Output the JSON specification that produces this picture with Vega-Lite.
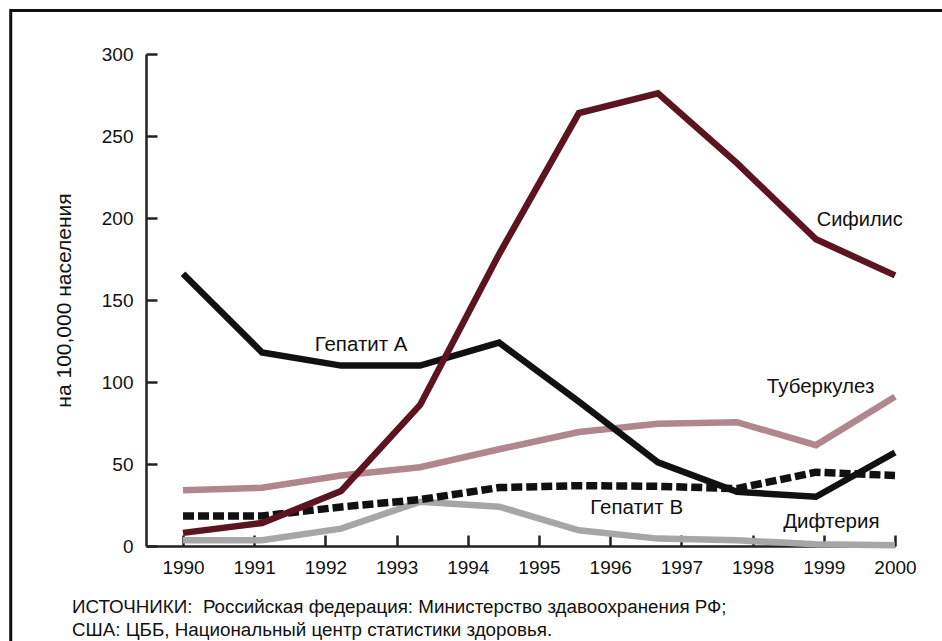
{
  "$schema": "https://vega.github.io/schema/vega-lite/v6.json",
  "width": 749,
  "height": 492,
  "autosize": {"type": "none"},
  "padding": {"left": 146, "top": 54, "right": 47, "bottom": 95},
  "background": "white",
  "config": {
    "view": {"stroke": null},
    "font": "Liberation Sans",
    "axis": {"labelFont": "Liberation Sans", "titleFont": "Liberation Sans", "labelColor": "#111", "titleColor": "#111", "domainColor": "#222", "tickColor": "#222", "domainWidth": 2.5, "tickWidth": 2.5, "grid": false}
  },
  "data": {
    "values": [
      {"series": "Гепатит А", "year": 1990, "value": 166},
      {"series": "Гепатит А", "year": 1991.11, "value": 118},
      {"series": "Гепатит А", "year": 1992.22, "value": 110},
      {"series": "Гепатит А", "year": 1993.33, "value": 110},
      {"series": "Гепатит А", "year": 1994.44, "value": 124},
      {"series": "Гепатит А", "year": 1995.56, "value": 88},
      {"series": "Гепатит А", "year": 1996.67, "value": 51},
      {"series": "Гепатит А", "year": 1997.78, "value": 33},
      {"series": "Гепатит А", "year": 1998.89, "value": 30},
      {"series": "Гепатит А", "year": 2000, "value": 57},
      {"series": "Сифилис", "year": 1990, "value": 8},
      {"series": "Сифилис", "year": 1991.11, "value": 14},
      {"series": "Сифилис", "year": 1992.22, "value": 33.5},
      {"series": "Сифилис", "year": 1993.33, "value": 86},
      {"series": "Сифилис", "year": 1994.44, "value": 178},
      {"series": "Сифилис", "year": 1995.56, "value": 264},
      {"series": "Сифилис", "year": 1996.67, "value": 276},
      {"series": "Сифилис", "year": 1997.78, "value": 233.5},
      {"series": "Сифилис", "year": 1998.89, "value": 187},
      {"series": "Сифилис", "year": 2000, "value": 165},
      {"series": "Туберкулез", "year": 1990, "value": 34},
      {"series": "Туберкулез", "year": 1991.11, "value": 35.5},
      {"series": "Туберкулез", "year": 1992.22, "value": 43},
      {"series": "Туберкулез", "year": 1993.33, "value": 48},
      {"series": "Туберкулез", "year": 1994.44, "value": 59},
      {"series": "Туберкулез", "year": 1995.56, "value": 69.5},
      {"series": "Туберкулез", "year": 1996.67, "value": 74.5},
      {"series": "Туберкулез", "year": 1997.78, "value": 75.5},
      {"series": "Туберкулез", "year": 1998.89, "value": 61.5},
      {"series": "Туберкулез", "year": 2000, "value": 91},
      {"series": "Гепатит В", "year": 1990, "value": 18.3},
      {"series": "Гепатит В", "year": 1991.11, "value": 18.3},
      {"series": "Гепатит В", "year": 1992.22, "value": 23.8},
      {"series": "Гепатит В", "year": 1993.33, "value": 28.3},
      {"series": "Гепатит В", "year": 1994.44, "value": 35.6},
      {"series": "Гепатит В", "year": 1995.56, "value": 36.8},
      {"series": "Гепатит В", "year": 1996.67, "value": 36.4},
      {"series": "Гепатит В", "year": 1997.78, "value": 35},
      {"series": "Гепатит В", "year": 1998.89, "value": 45},
      {"series": "Гепатит В", "year": 2000, "value": 43},
      {"series": "Дифтерия", "year": 1990, "value": 3.5},
      {"series": "Дифтерия", "year": 1991.11, "value": 3.5},
      {"series": "Дифтерия", "year": 1992.22, "value": 10.6},
      {"series": "Дифтерия", "year": 1993.33, "value": 27},
      {"series": "Дифтерия", "year": 1994.44, "value": 24},
      {"series": "Дифтерия", "year": 1995.56, "value": 9.6},
      {"series": "Дифтерия", "year": 1996.67, "value": 4.5},
      {"series": "Дифтерия", "year": 1997.78, "value": 3.5},
      {"series": "Дифтерия", "year": 1998.89, "value": 1},
      {"series": "Дифтерия", "year": 2000, "value": 0.5}
    ]
  },
  "encoding": {
    "x": {
      "field": "year", "type": "quantitative",
      "scale": {"domain": [1989.48, 2000], "nice": false, "zero": false},
      "axis": {"title": null, "values": [1990,1991,1992,1993,1994,1995,1996,1997,1998,1999,2000], "format": "d", "labelFontSize": 19, "tickSize": -11, "labelPadding": 23, "labelFlush": false, "labelOverlap": false}
    },
    "y": {
      "field": "value", "type": "quantitative",
      "scale": {"domain": [0, 300], "nice": false},
      "axis": {"title": "на 100,000 населения", "titleFontSize": 21, "titleFontWeight": "normal", "titlePadding": 27, "values": [0,50,100,150,200,250,300], "labelFontSize": 19, "tickSize": -11, "labelPadding": 24}
    }
  },
  "layer": [
    {
      "transform": [{"filter": "datum.series === 'Сифилис' && datum.year === 2000"}],
      "mark": {"type": "rect", "fill": null, "stroke": "#111", "strokeWidth": 3, "clip": false},
      "encoding": {
        "x": {"datum": 1987.58, "type": "quantitative"},
        "x2": {"datum": 2003},
        "y": {"datum": 326.5, "type": "quantitative"},
        "y2": {"datum": -80}
      }
    },
    {
      "transform": [{"filter": "datum.series === 'Дифтерия'"}],
      "mark": {"type": "line", "color": "#a6a6a6", "strokeWidth": 6.5, "strokeJoin": "miter", "strokeCap": "butt"}
    },
    {
      "transform": [{"filter": "datum.series === 'Туберкулез'"}],
      "mark": {"type": "line", "color": "#b0878e", "strokeWidth": 6.5, "strokeJoin": "miter", "strokeCap": "butt"}
    },
    {
      "transform": [{"filter": "datum.series === 'Гепатит В'"}],
      "mark": {"type": "line", "color": "#111111", "strokeWidth": 7.5, "strokeDash": [11, 4], "strokeJoin": "miter", "strokeCap": "butt"}
    },
    {
      "transform": [{"filter": "datum.series === 'Гепатит А'"}],
      "mark": {"type": "line", "color": "#111111", "strokeWidth": 6.5, "strokeJoin": "miter", "strokeCap": "butt"}
    },
    {
      "transform": [{"filter": "datum.series === 'Сифилис'"}],
      "mark": {"type": "line", "color": "#5c1421", "strokeWidth": 6.5, "strokeJoin": "miter", "strokeCap": "butt"}
    },
    {
      "transform": [{"filter": "datum.series === 'Гепатит А' && datum.year === 2000"}],
      "mark": {"type": "text", "align": "left", "baseline": "middle", "fontSize": 20.5, "fill": "#111"},
      "encoding": {"x": {"datum": 1991.85, "type": "quantitative"}, "y": {"datum": 122.4, "type": "quantitative"}, "text": {"value": "Гепатит А"}}
    },
    {
      "transform": [{"filter": "datum.series === 'Сифилис' && datum.year === 2000"}],
      "mark": {"type": "text", "align": "left", "baseline": "middle", "fontSize": 20, "fill": "#111"},
      "encoding": {"x": {"datum": 1998.9, "type": "quantitative"}, "y": {"datum": 198.6, "type": "quantitative"}, "text": {"value": "Сифилис"}}
    },
    {
      "transform": [{"filter": "datum.series === 'Туберкулез' && datum.year === 2000"}],
      "mark": {"type": "text", "align": "left", "baseline": "middle", "fontSize": 20.5, "fill": "#111"},
      "encoding": {"x": {"datum": 1998.2, "type": "quantitative"}, "y": {"datum": 96.8, "type": "quantitative"}, "text": {"value": "Туберкулез"}}
    },
    {
      "transform": [{"filter": "datum.series === 'Гепатит В' && datum.year === 2000"}],
      "mark": {"type": "text", "align": "left", "baseline": "middle", "fontSize": 20.5, "fill": "#111"},
      "encoding": {"x": {"datum": 1995.72, "type": "quantitative"}, "y": {"datum": 23.0, "type": "quantitative"}, "text": {"value": "Гепатит В"}}
    },
    {
      "transform": [{"filter": "datum.series === 'Дифтерия' && datum.year === 2000"}],
      "mark": {"type": "text", "align": "left", "baseline": "middle", "fontSize": 20.5, "fill": "#111"},
      "encoding": {"x": {"datum": 1998.43, "type": "quantitative"}, "y": {"datum": 14.5, "type": "quantitative"}, "text": {"value": "Дифтерия"}}
    },
    {
      "transform": [{"filter": "datum.series === 'Дифтерия' && datum.year === 1990"}],
      "mark": {"type": "text", "align": "left", "baseline": "top", "fontSize": 18.8, "fill": "#111", "lineHeight": 23},
      "encoding": {"x": {"datum": 1988.44, "type": "quantitative"}, "y": {"datum": -31.8, "type": "quantitative"}, "text": {"value": ["ИСТОЧНИКИ:\u00a0 Российская федерация: Министерство здавоохранения РФ;", "США: ЦББ, Национальный центр статистики здоровья."]}}
    }
  ]
}
